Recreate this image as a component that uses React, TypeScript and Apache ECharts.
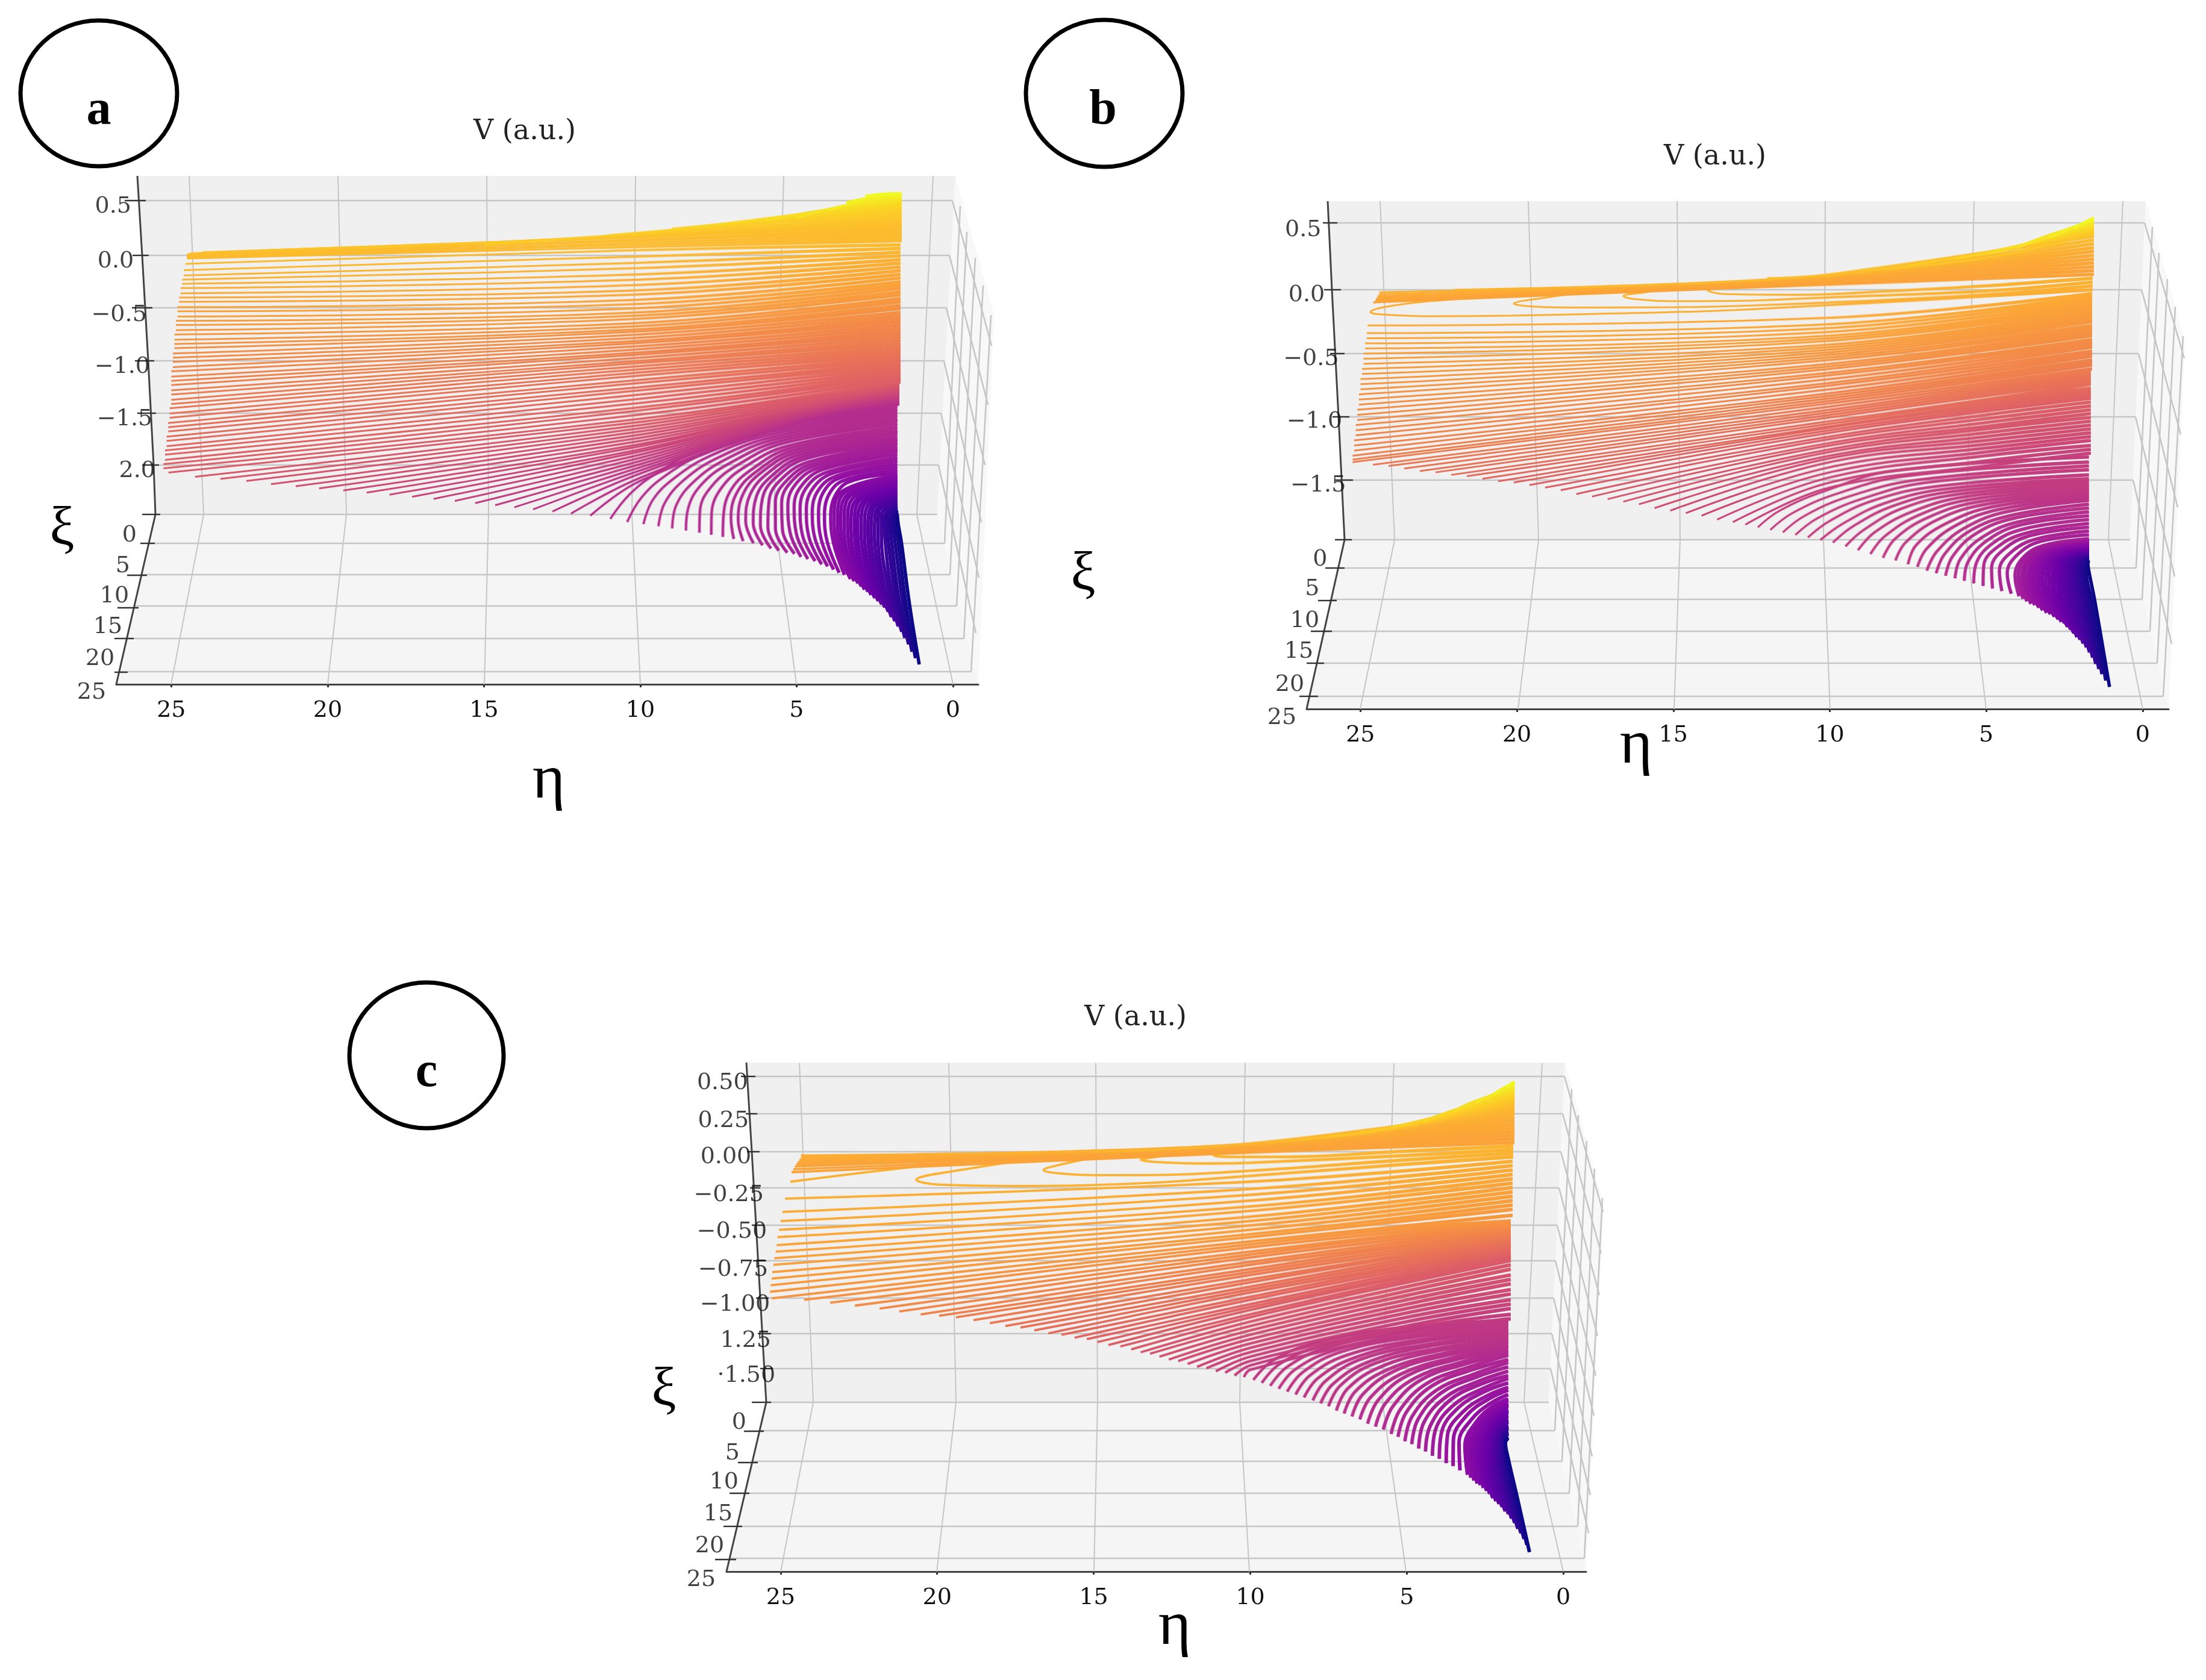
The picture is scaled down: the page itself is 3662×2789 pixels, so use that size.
import React, { useEffect, useRef } from "react";
import * as echarts from "echarts";

// ---------- values: eta on the front axis, V on the back wall ----------
const etaTicks = [0, 5, 10, 15, 20, 25];
const midEtasLeft = [10];
const midEtasBottom = [10, 5];

// rows: startEta, startV, midEta, midV, endV
const aBand = [
  [24.5,-.03,10,.08,.14],[24.5,-.02,10,.10,.17],[24.5,-.01,10,.12,.20],[24.5,0,10,.14,.23],[24.5,.01,10,.15,.26],[24.4,.02,10,.17,.29],
  [24,.03,10,.18,.32],[22,.05,10,.19,.35],[19,.07,10,.20,.38],[15,.10,10,.21,.41],[11,.19,7,.29,.44],[9,.25,5.5,.35,.47],
  [7.5,.29,4.5,.40,.49],[6,.33,3.8,.44,.51],[5,.36,3.2,.48,.53],[4,.43,2.8,.51,.55],[3.4,.50,2.5,.55,.57],[2.8,.56,2.2,.58,.585],
];
// rows: startEta, startV, V at eta 10, endV
const aLeft = [
  [24.55,-.08,.05,.10],[24.6,-.14,-.01,.065],[24.6,-.19,-.07,.03],[24.65,-.23,-.12,-.005],[24.65,-.27,-.18,-.04],[24.7,-.31,-.23,-.075],
  [24.7,-.36,-.28,-.11],[24.75,-.40,-.33,-.145],[24.75,-.44,-.37,-.18],[24.8,-.49,-.42,-.215],[24.8,-.53,-.46,-.25],[24.8,-.58,-.50,-.28],
  [24.85,-.62,-.54,-.31],[24.85,-.66,-.57,-.345],[24.85,-.71,-.60,-.375],[24.9,-.75,-.64,-.41],[24.9,-.80,-.67,-.44],[24.9,-.84,-.70,-.475],
  [24.9,-.88,-.72,-.505],[24.95,-.93,-.75,-.54],[24.95,-.97,-.78,-.57],[24.95,-1.01,-.81,-.60],[24.95,-1.06,-.83,-.63],[25,-1.10,-.86,-.66],
  [25,-1.15,-.89,-.69],[25,-1.19,-.92,-.72],[25,-1.23,-.94,-.75],[25,-1.28,-.97,-.78],[25,-1.32,-1.00,-.81],[25,-1.37,-1.02,-.84],
  [25,-1.41,-1.05,-.87],[25.05,-1.45,-1.08,-.895],[25.05,-1.50,-1.11,-.92],[25.05,-1.54,-1.14,-.945],[25.1,-1.59,-1.18,-.97],[25.1,-1.63,-1.21,-.995],
  [25.1,-1.67,-1.25,-1.02],[25.15,-1.72,-1.28,-1.04],[25.15,-1.76,-1.32,-1.065],[25.15,-1.81,-1.36,-1.09],[25.2,-1.85,-1.40,-1.11],[25.2,-1.89,-1.44,-1.13],
  [25.2,-1.94,-1.47,-1.15],[25.25,-1.98,-1.51,-1.175],[25.25,-2.02,-1.55,-1.20],
];
// rows: startEta, startV, V at eta 10, V at eta 5, endV
const aBottom = [
  [25.09,-2.06,-1.58,-1.36,-1.22],[24.24,-2.10,-1.61,-1.38,-1.23],[23.43,-2.12,-1.64,-1.40,-1.24],[22.60,-2.14,-1.67,-1.42,-1.25],
  [21.81,-2.17,-1.70,-1.43,-1.26],[21.02,-2.19,-1.73,-1.45,-1.27],[20.27,-2.21,-1.76,-1.46,-1.28],[19.50,-2.23,-1.79,-1.47,-1.29],
  [18.75,-2.25,-1.81,-1.48,-1.30],[18.02,-2.27,-1.84,-1.49,-1.31],[17.30,-2.29,-1.86,-1.50,-1.32],[16.61,-2.31,-1.89,-1.51,-1.33],
  [15.93,-2.33,-1.92,-1.52,-1.34],[15.28,-2.35,-1.95,-1.53,-1.35],[14.64,-2.37,-1.98,-1.54,-1.36],[14.03,-2.39,-2.01,-1.55,-1.37],
  [13.43,-2.41,-2.04,-1.56,-1.38],[12.81,-2.43,-2.07,-1.57,-1.39],[12.22,-2.45,-2.11,-1.58,-1.40],[11.60,-2.47,-2.14,-1.59,-1.41],
];
// rows: eta,V pairs, then endV
const aArcs = [
  [10.96,-2.50,10.35,-2.27,9.50,-2.07,8.20,-1.86,6.05,-1.66,-1.43],[10.42,-2.53,9.97,-2.30,9.20,-2.09,7.97,-1.88,5.94,-1.68,-1.46],
  [9.90,-2.55,9.60,-2.32,8.90,-2.11,7.75,-1.90,5.84,-1.70,-1.49],[9.42,-2.57,9.22,-2.35,8.60,-2.13,7.52,-1.92,5.73,-1.72,-1.52],
  [8.98,-2.59,8.85,-2.37,8.30,-2.15,7.30,-1.94,5.63,-1.74,-1.55],[8.54,-2.61,8.47,-2.40,8.00,-2.16,7.07,-1.96,5.52,-1.76,-1.57],
  [8.11,-2.63,8.09,-2.42,7.69,-2.18,6.84,-1.98,5.41,-1.78,-1.60],[7.73,-2.65,7.72,-2.45,7.39,-2.20,6.62,-2.00,5.31,-1.81,-1.63],
  [7.36,-2.67,7.34,-2.47,7.09,-2.22,6.39,-2.02,5.20,-1.83,-1.66],[7.01,-2.69,7.10,-2.49,6.89,-2.24,6.24,-2.04,5.10,-1.85,-1.68],
  [6.71,-2.71,6.87,-2.51,6.69,-2.25,6.09,-2.05,5.01,-1.87,-1.70],[6.38,-2.73,6.63,-2.52,6.49,-2.27,5.94,-2.07,4.91,-1.89,-1.73],
  [6.09,-2.75,6.39,-2.54,6.29,-2.29,5.79,-2.09,4.81,-1.91,-1.75],[5.82,-2.78,6.16,-2.56,6.09,-2.30,5.64,-2.10,4.72,-1.93,-1.77],
  [5.57,-2.80,5.92,-2.58,5.88,-2.32,5.48,-2.12,4.62,-1.96,-1.79],[5.30,-2.82,5.68,-2.59,5.68,-2.34,5.33,-2.14,4.52,-1.98,-1.82],
  [5.07,-2.83,5.45,-2.61,5.48,-2.35,5.18,-2.15,4.43,-2.00,-1.84],[4.86,-2.86,5.21,-2.63,5.28,-2.37,5.03,-2.17,4.33,-2.02,-1.86],
  [4.64,-2.88,5.01,-2.64,5.08,-2.38,4.83,-2.18,4.14,-2.03,-1.89],[4.41,-2.90,4.81,-2.66,4.89,-2.40,4.63,-2.18,3.96,-2.05,-1.92],
  [4.20,-2.93,4.61,-2.67,4.69,-2.41,4.43,-2.19,3.77,-2.06,-1.95],[4.01,-2.95,4.41,-2.69,4.50,-2.43,4.24,-2.20,3.59,-2.08,-1.98],
  [3.82,-2.98,4.21,-2.70,4.30,-2.44,4.04,-2.20,3.40,-2.09,-2.01],[3.64,-3.01,4.02,-2.72,4.11,-2.46,3.84,-2.21,3.22,-2.11,-2.04],
  [3.47,-3.03,3.82,-2.73,3.91,-2.47,3.64,-2.22,3.03,-2.12,-2.07],
  [3.28,-3.07,3.70,-2.76,3.80,-2.48,3.55,-2.24,-2.09],[3.16,-3.09,3.59,-2.78,3.69,-2.49,3.46,-2.25,-2.11],[3.04,-3.11,3.47,-2.81,3.59,-2.51,3.37,-2.27,-2.13],
  [2.93,-3.14,3.36,-2.84,3.48,-2.52,3.28,-2.28,-2.14],[2.83,-3.17,3.24,-2.86,3.37,-2.53,3.19,-2.30,-2.16],[2.72,-3.19,3.13,-2.89,3.26,-2.54,3.10,-2.32,-2.18],
  [2.62,-3.22,3.01,-2.92,3.15,-2.55,3.01,-2.33,-2.20],[2.50,-3.25,2.90,-2.95,3.05,-2.57,2.92,-2.35,-2.22],[2.39,-3.28,2.78,-2.97,2.94,-2.58,2.83,-2.36,-2.24],
  [2.28,-3.31,2.67,-3.00,2.83,-2.59,2.74,-2.38,-2.26],[2.18,-3.34,2.55,-3.03,2.72,-2.60,2.65,-2.40,-2.27],[2.07,-3.38,2.44,-3.05,2.62,-2.61,2.56,-2.41,-2.29],
  [1.97,-3.43,2.32,-3.08,2.51,-2.63,2.47,-2.43,-2.31],[1.86,-3.47,2.21,-3.11,2.40,-2.64,2.38,-2.44,-2.33],[1.75,-3.52,2.09,-3.13,2.29,-2.65,2.29,-2.46,-2.35],
  [1.64,-3.57,1.98,-3.16,2.18,-2.66,2.20,-2.48,-2.37],[1.54,-3.63,1.86,-3.19,2.08,-2.67,2.11,-2.49,-2.39],[1.42,-3.69,1.75,-3.22,1.97,-2.69,2.02,-2.51,-2.41],
  [1.31,-3.76,1.63,-3.24,1.86,-2.70,1.93,-2.52,-2.42],[1.20,-3.82,1.52,-3.27,1.75,-2.71,1.84,-2.54,-2.44],[1.08,-3.88,1.40,-3.29,1.65,-2.72,1.75,-2.55,-2.46],
];

const bBand = [
  [24.6,-.10,10,.04,.12],[24.55,-.09,10,.05,.15],[24.5,-.08,10,.06,.18],[24.5,-.07,10,.07,.21],[24.45,-.06,10,.08,.24],[24.45,-.05,10,.09,.27],
  [24.4,-.035,10,.10,.30],[24.4,-.02,10,.105,.33],[22,0,10,.11,.36],[18,.02,10,.115,.39],[12,.09,10,.12,.42],[9,.15,5,.25,.44],
  [7.5,.19,4.5,.31,.46],[6,.24,3.8,.35,.48],[5,.28,3.2,.39,.50],[4,.33,2.8,.44,.52],[3,.41,2.3,.48,.54],[2.2,.48,1.9,.52,.56],
];
const bLoops = [
  [18.5,-.014,20.2,-.047,22.8,-.09,24.25,-.137,24.68,-.175,24.5,-.19,22.8,-.208,20.2,-.203,17.6,-.19,13.6,-.165,10,-.12,5,-.05,0],
  [17.63,-.014,19.2,-.066,20.1,-.11,19.6,-.13,18.5,-.14,15,-.137,10,-.10,5,-.04,.03],
  [14.9,.02,15.9,-.02,16.6,-.05,16.2,-.075,15,-.09,12.5,-.085,10,-.06,5,-.01,.06],
  [12.5,.04,13.4,.015,13.9,-.005,13.3,-.035,11,-.04,8,-.01,5,.03,.09],
];
const bLeft = [
  [24.77,-.28,-.22,-.03],[24.8,-.34,-.27,-.05],[24.8,-.38,-.30,-.07],[24.85,-.42,-.33,-.09],[24.85,-.46,-.36,-.11],[24.9,-.50,-.38,-.13],
  [24.9,-.54,-.40,-.15],[24.9,-.58,-.43,-.17],[24.95,-.62,-.45,-.19],[24.95,-.66,-.47,-.21],[25,-.70,-.49,-.23],[25,-.74,-.51,-.25],
  [25,-.78,-.53,-.28],[25.05,-.82,-.55,-.30],[25.05,-.86,-.58,-.32],[25.05,-.90,-.60,-.34],[25.1,-.94,-.62,-.36],[25.1,-.98,-.65,-.39],
  [25.1,-1.02,-.67,-.41],[25.15,-1.06,-.70,-.43],[25.15,-1.10,-.73,-.45],[25.15,-1.14,-.75,-.48],[25.2,-1.18,-.78,-.50],[25.2,-1.22,-.81,-.52],
  [25.2,-1.26,-.83,-.55],[25.25,-1.30,-.85,-.57],[25.25,-1.33,-.87,-.59],[25.25,-1.35,-.89,-.62],
];
const bBottom = [
  [24.6,-1.37,-.915,-.75,-.64],[24.1,-1.38,-.94,-.77,-.66],[23.6,-1.40,-.96,-.79,-.68],[23.1,-1.42,-.98,-.81,-.70],[22.6,-1.43,-1.00,-.83,-.72],
  [22.1,-1.45,-1.03,-.86,-.74],[21.6,-1.46,-1.05,-.87,-.77],[21.1,-1.48,-1.07,-.89,-.79],[20.6,-1.50,-1.08,-.91,-.81],[20.1,-1.51,-1.10,-.93,-.83],
  [19.6,-1.53,-1.12,-.95,-.85],[19.1,-1.55,-1.15,-.98,-.88],[18.6,-1.57,-1.17,-1.01,-.91],[18.1,-1.60,-1.20,-1.04,-.94],[17.6,-1.62,-1.22,-1.07,-.97],
  [17.1,-1.64,-1.25,-1.09,-1.00],[16.6,-1.66,-1.27,-1.12,-1.03],[16.1,-1.68,-1.30,-1.15,-1.06],[15.6,-1.71,-1.32,-1.18,-1.09],[15.1,-1.73,-1.35,-1.21,-1.12],
  [14.6,-1.75,-1.39,-1.24,-1.15],[14.1,-1.77,-1.43,-1.27,-1.18],[13.6,-1.80,-1.47,-1.30,-1.22],[13.1,-1.82,-1.51,-1.34,-1.25],[12.7,-1.84,-1.55,-1.38,-1.28],
];
const bArcs = [
  [12.3,-1.86,11.6,-1.73,10.2,-1.58,8,-1.42,-1.31],[11.9,-1.88,11.2,-1.75,9.8,-1.60,7.6,-1.46,-1.35],[11.5,-1.90,10.8,-1.77,9.4,-1.62,7.2,-1.49,-1.38],
  [11.1,-1.92,10.4,-1.79,9.0,-1.64,6.9,-1.51,-1.41],[10.7,-1.94,10.0,-1.81,8.6,-1.65,6.6,-1.54,-1.45],[10.3,-1.96,9.57,-1.83,8.22,-1.67,6.29,-1.56,-1.48],
  [9.9,-1.98,9.24,-1.85,7.94,-1.69,6.08,-1.58,-1.50],[9.5,-2.01,8.91,-1.88,7.66,-1.71,5.86,-1.60,-1.52],[9.1,-2.04,8.57,-1.90,7.39,-1.74,5.65,-1.62,-1.54],
  [8.7,-2.07,8.24,-1.93,7.11,-1.76,5.44,-1.64,-1.56],[8.3,-2.10,7.91,-1.95,6.83,-1.78,5.22,-1.66,-1.58],[7.9,-2.12,7.58,-1.98,6.55,-1.80,5.01,-1.68,-1.59],
  [7.5,-2.15,7.24,-2.00,6.28,-1.83,4.80,-1.70,-1.61],[7.2,-2.17,6.91,-2.03,6.00,-1.85,4.58,-1.72,-1.63],[6.9,-2.20,6.58,-2.05,5.72,-1.87,4.37,-1.74,-1.65],
  [6.6,-2.22,6.33,-2.07,5.53,-1.89,4.25,-1.77,-1.68],[6.3,-2.24,6.08,-2.09,5.33,-1.91,4.12,-1.79,-1.71],[6.0,-2.26,5.83,-2.11,5.14,-1.94,4.00,-1.82,-1.74],
  [5.7,-2.28,5.58,-2.13,4.95,-1.96,3.87,-1.84,-1.77],[5.4,-2.30,5.33,-2.15,4.76,-1.98,3.75,-1.87,-1.80],[5.1,-2.32,5.08,-2.16,4.56,-2.00,3.62,-1.90,-1.83],
  [4.8,-2.34,4.83,-2.18,4.37,-2.02,3.50,-1.92,-1.86],[4.5,-2.36,4.58,-2.20,4.18,-2.05,3.37,-1.95,-1.89],[4.2,-2.38,4.33,-2.22,3.98,-2.07,3.25,-1.97,-1.92],
  [3.95,-2.40,4.08,-2.24,3.79,-2.09,3.12,-2.00,-1.95],
  [3.82,-2.42,3.98,-2.25,3.71,-2.09,3.07,-2.01,-1.96],[3.7,-2.44,3.88,-2.26,3.63,-2.10,3.01,-2.01,-1.96],[3.57,-2.46,3.79,-2.26,3.55,-2.10,2.96,-2.02,-1.97],
  [3.45,-2.47,3.69,-2.27,3.47,-2.11,2.91,-2.02,-1.98],[3.32,-2.49,3.59,-2.28,3.40,-2.11,2.85,-2.03,-1.98],[3.2,-2.51,3.49,-2.29,3.32,-2.11,2.80,-2.03,-1.99],
  [3.07,-2.53,3.39,-2.30,3.24,-2.12,2.75,-2.04,-2.00],[2.95,-2.54,3.30,-2.31,3.16,-2.12,2.70,-2.04,-2.00],[2.82,-2.56,3.20,-2.31,3.08,-2.12,2.64,-2.05,-2.01],
  [2.7,-2.58,3.10,-2.32,3.00,-2.13,2.59,-2.05,-2.02],[2.6,-2.60,3.00,-2.33,2.92,-2.13,2.54,-2.06,-2.02],[2.5,-2.61,2.90,-2.34,2.84,-2.14,2.48,-2.06,-2.03],
  [2.4,-2.64,2.81,-2.35,2.76,-2.14,2.43,-2.07,-2.03],[2.3,-2.66,2.71,-2.35,2.68,-2.14,2.38,-2.08,-2.04],[2.2,-2.69,2.61,-2.36,2.60,-2.15,2.32,-2.08,-2.05],
  [2.1,-2.72,2.51,-2.37,2.53,-2.15,2.27,-2.09,-2.05],[2.0,-2.74,2.41,-2.38,2.45,-2.15,2.22,-2.09,-2.06],[1.9,-2.77,2.32,-2.39,2.37,-2.16,2.17,-2.10,-2.07],
  [1.8,-2.80,2.22,-2.40,2.29,-2.16,2.11,-2.10,-2.07],[1.7,-2.84,2.12,-2.40,2.21,-2.17,2.06,-2.11,-2.08],[1.6,-2.88,2.02,-2.41,2.13,-2.17,2.01,-2.11,-2.09],
  [1.5,-2.93,1.92,-2.42,2.05,-2.17,1.95,-2.12,-2.09],[1.4,-2.97,1.83,-2.43,1.97,-2.18,1.90,-2.12,-2.10],[1.3,-3.01,1.73,-2.44,1.89,-2.18,1.85,-2.13,-2.11],
  [1.18,-3.06,1.63,-2.44,1.81,-2.19,1.80,-2.13,-2.11],[1.06,-3.11,1.52,-2.45,1.73,-2.19,1.75,-2.14,-2.12],
];

const cBand = [
  [24.65,-.145,10,-.01,.06],[24.6,-.125,10,0,.085],[24.55,-.105,10,.01,.11],[24.5,-.09,10,.02,.135],[24.45,-.075,10,.03,.16],[24.4,-.06,10,.035,.185],
  [24.35,-.045,10,.04,.21],[24.35,-.03,10,.045,.235],[20,-.02,10,.05,.26],[15,-.005,10,.05,.28],[9.5,.06,6,.13,.30],[8.5,.08,5.5,.15,.32],
  [7.5,.10,5,.175,.34],[6.5,.13,4.5,.20,.36],[5.5,.16,4,.235,.38],[4.5,.20,3.3,.29,.40],[3.5,.27,2.8,.34,.42],[2.8,.33,2.3,.38,.44],[2.2,.39,1.9,.43,.46],[1.8,.44,1.65,.46,.475],
];
const cLoops = [
  [17,-.045,19.94,-.09,24.69,-.21],
  [16.6,-.045,18.96,-.12,20.67,-.198,19.94,-.23,17,-.24,13.4,-.22,10,-.17,5,-.09,-.04],
  [15,-.045,16,-.09,16.6,-.13,16,-.155,15,-.165,13.4,-.165,10,-.135,5,-.06,-.015],
  [12.2,-.01,13,-.04,13.5,-.06,13,-.075,11.5,-.085,10,-.08,5,-.03,.01],
  [10.2,0,10.8,-.015,11.16,-.03,10.6,-.04,9,-.04,5,0,.035],
];
const cLeft = [
  [24.86,-.326,-.21,-.07],[24.94,-.417,-.26,-.10],[25,-.48,-.30,-.13],[25.05,-.54,-.34,-.16],[25.1,-.59,-.38,-.19],[25.13,-.645,-.41,-.22],
  [25.16,-.69,-.45,-.25],[25.2,-.735,-.48,-.28],[25.23,-.78,-.51,-.31],[25.27,-.83,-.54,-.34],[25.29,-.875,-.57,-.37],[25.32,-.92,-.59,-.40],[25.34,-.965,-.62,-.44],
];
const cBottom = [
  [25.29,-1.01,-.64,-.53,-.48],[24.25,-1.02,-.66,-.55,-.49],[23.42,-1.04,-.69,-.57,-.50],[22.63,-1.06,-.71,-.58,-.52],[21.84,-1.08,-.73,-.60,-.53],
  [21.21,-1.10,-.76,-.62,-.54],[20.53,-1.12,-.78,-.64,-.55],[19.94,-1.13,-.81,-.65,-.57],[19.40,-1.14,-.83,-.67,-.58],[18.84,-1.16,-.85,-.69,-.59],
  [18.32,-1.18,-.88,-.71,-.60],[17.82,-1.20,-.90,-.72,-.62],[17.34,-1.21,-.93,-.74,-.63],[16.90,-1.23,-.95,-.76,-.64],[16.45,-1.25,-.97,-.78,-.65],
  [16.03,-1.26,-1.00,-.79,-.67],[15.61,-1.28,-1.02,-.81,-.68],[15.22,-1.29,-1.05,-.83,-.69],[14.88,-1.31,-1.07,-.85,-.71],[14.53,-1.33,-1.09,-.86,-.72],
  [14.15,-1.34,-1.12,-.88,-.73],[13.8,-1.36,-1.14,-.90,-.75],[13.5,-1.38,-1.17,-.93,-.78],[13.2,-1.39,-1.20,-.96,-.81],[12.9,-1.41,-1.23,-.99,-.85],
  [12.6,-1.43,-1.26,-1.02,-.88],[12.3,-1.44,-1.29,-1.05,-.91],[12,-1.46,-1.32,-1.08,-.95],[11.7,-1.48,-1.35,-1.11,-.98],[11.4,-1.49,-1.38,-1.14,-1.02],
  [11.1,-1.51,-1.41,-1.17,-1.05],[10.8,-1.52,-1.44,-1.20,-1.08],[10.5,-1.54,-1.47,-1.22,-1.12],[10.2,-1.55,-1.50,-1.25,-1.15],
];
const cArcs = [
  [9.9,-1.57,9.30,-1.44,8.00,-1.32,5.50,-1.22,-1.16],[9.63,-1.59,9.06,-1.46,7.78,-1.34,5.35,-1.24,-1.17],[9.36,-1.61,8.82,-1.48,7.57,-1.35,5.20,-1.25,-1.19],
  [9.09,-1.63,8.58,-1.50,7.35,-1.37,5.06,-1.27,-1.20],[8.82,-1.65,8.34,-1.52,7.14,-1.38,4.91,-1.28,-1.22],[8.55,-1.67,8.10,-1.54,6.92,-1.40,4.76,-1.30,-1.23],
  [8.28,-1.69,7.85,-1.56,6.70,-1.42,4.61,-1.31,-1.24],[8.0,-1.71,7.61,-1.58,6.49,-1.43,4.46,-1.33,-1.26],[7.75,-1.73,7.37,-1.60,6.27,-1.45,4.32,-1.34,-1.27],
  [7.5,-1.75,7.13,-1.61,6.06,-1.46,4.17,-1.36,-1.29],[7.25,-1.78,6.89,-1.63,5.84,-1.48,4.02,-1.37,-1.30],[7.0,-1.80,6.65,-1.65,5.62,-1.50,3.87,-1.39,-1.31],
  [6.75,-1.82,6.41,-1.67,5.41,-1.51,3.72,-1.40,-1.33],[6.5,-1.84,6.16,-1.69,5.19,-1.53,3.58,-1.42,-1.34],[6.25,-1.87,5.92,-1.71,4.98,-1.54,3.43,-1.43,-1.36],
  [6.0,-1.89,5.68,-1.73,4.76,-1.56,3.28,-1.45,-1.37],[5.75,-1.91,5.44,-1.75,4.55,-1.57,3.13,-1.46,-1.39],[5.5,-1.94,5.20,-1.77,4.33,-1.59,2.98,-1.48,-1.40],
  [5.28,-1.96,5.01,-1.79,4.19,-1.61,2.91,-1.50,-1.43],[5.06,-1.99,4.83,-1.82,4.05,-1.64,2.85,-1.53,-1.45],[4.84,-2.01,4.64,-1.84,3.91,-1.66,2.78,-1.55,-1.48],
  [4.62,-2.04,4.45,-1.86,3.77,-1.69,2.72,-1.58,-1.51],[4.4,-2.06,4.26,-1.89,3.63,-1.71,2.65,-1.60,-1.54],[4.18,-2.09,4.08,-1.91,3.49,-1.74,2.58,-1.63,-1.56],
  [3.96,-2.11,3.89,-1.93,3.35,-1.76,2.52,-1.65,-1.59],[3.74,-2.14,3.70,-1.95,3.21,-1.79,2.45,-1.68,-1.62],[3.52,-2.16,3.51,-1.98,3.07,-1.81,2.38,-1.70,-1.64],
  [3.3,-2.19,3.33,-2.00,2.93,-1.84,2.32,-1.73,-1.67],[3.06,-2.22,3.14,-2.02,2.79,-1.86,2.25,-1.75,-1.70],
  [2.95,-2.24,3.06,-2.04,2.74,-1.87,2.23,-1.76,-1.71],[2.85,-2.26,2.98,-2.05,2.69,-1.88,2.21,-1.78,-1.73],[2.75,-2.28,2.89,-2.07,2.64,-1.90,2.19,-1.79,-1.74],
  [2.65,-2.29,2.81,-2.09,2.59,-1.91,2.17,-1.80,-1.75],[2.55,-2.31,2.73,-2.10,2.53,-1.92,2.15,-1.81,-1.77],[2.45,-2.33,2.65,-2.12,2.48,-1.93,2.13,-1.83,-1.78],
  [2.35,-2.35,2.57,-2.14,2.43,-1.94,2.11,-1.84,-1.79],[2.25,-2.38,2.48,-2.15,2.38,-1.96,2.09,-1.85,-1.81],[2.15,-2.40,2.40,-2.17,2.33,-1.97,2.07,-1.86,-1.82],
  [2.05,-2.42,2.32,-2.19,2.28,-1.98,2.05,-1.88,-1.84],[1.95,-2.44,2.24,-2.20,2.23,-1.99,2.03,-1.89,-1.85],[1.85,-2.47,2.16,-2.22,2.18,-2.00,2.01,-1.90,-1.86],
  [1.75,-2.49,2.07,-2.23,2.13,-2.02,1.99,-1.91,-1.88],[1.65,-2.52,1.99,-2.25,2.08,-2.03,1.97,-1.93,-1.89],[1.55,-2.55,1.91,-2.27,2.03,-2.04,1.95,-1.94,-1.90],
  [1.45,-2.59,1.83,-2.28,1.97,-2.05,1.93,-1.95,-1.92],[1.35,-2.62,1.75,-2.30,1.92,-2.06,1.91,-1.96,-1.93],[1.25,-2.66,1.66,-2.32,1.87,-2.08,1.89,-1.98,-1.94],
  [1.16,-2.70,1.58,-2.33,1.82,-2.09,1.87,-1.99,-1.96],[1.08,-2.75,1.50,-2.35,1.77,-2.10,1.85,-2.00,-1.97],
];

// tick labels: label position read as [eta, V, text]
const aTickLabels = [[26.86,.48,"0.5"],[26.78,-.04,"0.0"],[26.67,-.55,"−0.5"],[26.57,-1.04,"−1.0"],[26.49,-1.54,"−1.5"],[26.09,-2.03,"2.0"],
  [26.34,-2.64,"0"],[26.55,-2.93,"5"],[26.82,-3.22,"10"],[27.03,-3.51,"15"],[27.28,-3.81,"20"],[27.55,-4.13,"25"]];
const bTickLabels = [[26.83,.48,"0.5"],[26.72,-.03,"0.0"],[26.58,-.53,"−0.5"],[26.47,-1.02,"−1.0"],[26.35,-1.52,"−1.5"],
  [26.29,-2.10,"0"],[26.54,-2.33,"5"],[26.78,-2.58,"10"],[26.97,-2.82,"15"],[27.26,-3.08,"20"],[27.51,-3.34,"25"]];
const cTickLabels = [[26.86,.48,"0.50"],[26.83,.22,"0.25"],[26.75,-.03,"0.00"],[26.66,-.29,"−0.25"],[26.56,-.54,"−0.50"],[26.52,-.80,"−0.75"],[26.46,-1.04,"−1.00"],[26.12,-1.29,"1.25"],[26.1,-1.53,"·1.50"],
  [26.33,-1.85,"0"],[26.54,-2.06,"5"],[26.81,-2.26,"10"],[27.0,-2.48,"15"],[27.27,-2.70,"20"],[27.54,-2.93,"25"]];

// ---------- styling and layout ----------
const plasma = ["#0d0887","#41049d","#6a00a8","#8f0da4","#b12a90","#cc4778","#e16462","#f1844b","#fca636","#fcce25","#f0f921"];
const hex = (h: string) => [1, 3, 5].map((i) => parseInt(h.slice(i, i + 2), 16));
const rgbAt = (t: number) => {
  const p = Math.max(0, Math.min(1, t)) * (plasma.length - 1);
  const i = Math.min(plasma.length - 2, Math.floor(p));
  const f = p - i, a = hex(plasma[i]), b = hex(plasma[i + 1]);
  return a.map((v, k) => Math.round(v + (b[k] - v) * f)).join(",");
};
const flat = (row: number[], endEta: number) => {
  const pts: number[][] = [];
  for (let i = 0; i + 2 < row.length; i += 2) pts.push([row[i], row[i + 1]]);
  if (row.length % 2) pts.push([endEta, row[row.length - 1]]);
  else pts.push([row[row.length - 2], row[row.length - 1]]);
  return pts;
};
const mids = (row: number[], etas: number[], endEta: number) => [
  [row[0], row[1]],
  ...etas.map((e, i) => [e, row[2 + i]]),
  [endEta, row[row.length - 1]],
];

type Fam = { lines: number[][][]; t0: number; t1: number; gamma: number };
const fams = (list: [number[][], "flat" | number[], number, number, number, number?][]): Fam[] =>
  list.map(([rows, kind, endEta, t0, t1, gamma]) => ({
    lines: rows.map((r) => (kind === "flat" ? flat(r, endEta) : mids(r, kind as number[], endEta))),
    t0, t1, gamma: gamma ?? 1,
  }));

const panels = [
  {
    grid: { left: 193, top: 292, width: 1431, height: 844 }, x: [-0.81, 26.76], y: [-4.069, 0.754], margin: 22, width: 3, halo: 5.6,
    families: fams([
      [aArcs, "flat", 1.78, 0.41, 0, 2],
      [aBottom, midEtasBottom, 1.72, 0.57, 0.42],
      [aLeft, midEtasLeft, 1.68, 0.85, 0.58],
      [aBand, "flat", 1.64, 0.85, 1, 2],
    ]),
    labels: aTickLabels,
    wall: [[228,292],[1586,292],[1556,854],[258,854]], floor: [[258,854],[1556,854],[1624,1136],[193,1136]], side: [[1586,292],[1650,523],[1624,1136],[1556,854]],
    grids: [[231,333,1581,333],[236,424,1576,424],[241,511,1571,511],[246,599,1567,599],[250,686,1562,686],[255,772,1558,772],[258,854,1556,854],
      [247,902,1568,902],[235,954,1577,954],[223,1006,1588,1006],[211,1060,1600,1060],[198,1115,1612,1115],
      [1594,342,1568,902],[1605,385,1577,954],[1619,428,1588,1006],[1632,474,1600,1060],[1645,523,1612,1115],
      [1581,333,1646,574],[1576,424,1640,672],[1571,511,1635,772],[1567,599,1629,867],[1562,686,1625,959],[1558,772,1620,1051]],
    verticals: [[[314,292],[338,854],[284,1136]],[[561,292],[575,854],[544,1136]],[[808,292],[811,854],[804,1136]],[[1055,292],[1049,854],[1063,1136]],[[1301,292],[1285,854],[1322,1136]],[[1549,292],[1522,854],[1582,1136]]],
    axis: [[228,292],[236,424],[246,599],[255,772],[258,854],[193,1136]],
    ticks: [[207,333,242,333],[220,424,247,424],[219,511,253,511],[224,599,256,599],[228,686,259,686],[236,772,264,772],[236,854,266,854],[233,902,257,902],[211,955,244,955],[195,1009,230,1009],[190,1060,222,1060],[190,1116,212,1116]],
    circle: [164, 155, 130, 121], letter: ["a", 164, 178], title: [871, 215], etaPos: [911, 1288], xiPos: [103, 873],
  },
  {
    grid: { left: 2169, top: 334, width: 1431, height: 843 }, x: [-0.83, 26.72], y: [-3.283, 0.693], margin: 22, width: 3, halo: 5.6,
    families: fams([
      [bArcs, "flat", 1.72, 0.47, 0, 2],
      [bBottom, midEtasBottom, 1.66, 0.67, 0.48],
      [bLeft, midEtasLeft, 1.62, 0.81, 0.68],
      [bLoops, "flat", 1.6, 0.82, 0.83],
      [bBand, "flat", 1.56, 0.79, 1, 2],
    ]),
    labels: bTickLabels,
    wall: [[2204,334],[3562,334],[3536,896],[2232,896]], floor: [[2232,896],[3536,896],[3600,1177],[2169,1177]], side: [[3562,334],[3627,567],[3600,1177],[3536,896]],
    grids: [[2206,370,3560,370],[2211,481,3555,481],[2217,587,3550,587],[2222,692,3545,692],[2227,797,3541,797],[2232,896,3536,896],
      [2221,943,3546,943],[2210,995,3556,995],[2198,1048,3569,1048],[2186,1101,3581,1101],[2174,1156,3591,1156],
      [3573,377,3546,943],[3584,420,3556,995],[3598,463,3569,1048],[3611,509,3581,1101],[3624,558,3591,1156],
      [3560,370,3626,595],[3555,481,3620,721],[3550,587,3615,842],[3545,692,3610,957],[3541,797,3605,1069]],
    verticals: [[[2291,334],[2315,896],[2258,1177]],[[2537,334],[2554,896],[2520,1177]],[[2784,334],[2789,896],[2779,1177]],[[3030,334],[3027,896],[3038,1177]],[[3277,334],[3264,896],[3297,1177]],[[3524,334],[3500,896],[3557,1177]]],
    axis: [[2204,334],[2211,481],[2222,692],[2232,896],[2169,1177]],
    ticks: [[2196,370,2220,370],[2198,481,2226,481],[2208,587,2232,587],[2212,692,2240,692],[2216,797,2246,797],[2216,896,2244,896],[2200,943,2232,943],[2188,997,2219,997],[2176,1048,2211,1048],[2169,1101,2198,1101],[2157,1156,2188,1156]],
    circle: [1833, 155, 130, 122], letter: ["b", 1831, 177], title: [2847, 257], etaPos: [2716, 1230], xiPos: [1798, 948],
  },
  {
    grid: { left: 1206, top: 1764, width: 1427, height: 845 }, x: [-0.73, 26.73], y: [-2.884, 0.607], margin: 22, width: 3.8, halo: 6,
    families: fams([
      [cArcs, "flat", 1.76, 0.45, 0, 2],
      [cBottom, midEtasBottom, 1.68, 0.75, 0.46],
      [cLeft, midEtasLeft, 1.62, 0.82, 0.76],
      [cLoops, "flat", 1.6, 0.825, 0.835],
      [cBand, "flat", 1.56, 0.79, 1, 2],
    ]),
    labels: cTickLabels,
    wall: [[1239,1764],[2598,1764],[2571,2328],[1272,2328]], floor: [[1272,2328],[2571,2328],[2633,2609],[1206,2609]], side: [[2598,1764],[2662,2000],[2633,2609],[2571,2328]],
    grids: [[1240,1787,2597,1787],[1244,1849,2594,1849],[1248,1912,2591,1912],[1251,1972,2588,1972],[1255,2034,2585,2034],[1258,2093,2582,2093],[1262,2155,2579,2155],[1265,2214,2576,2214],[1269,2272,2574,2272],[1272,2328,2571,2328],
      [1261,2375,2581,2375],[1249,2426,2593,2426],[1237,2479,2605,2479],[1224,2534,2619,2534],[1212,2587,2630,2587],
      [2609,1808,2581,2375],[2620,1851,2593,2426],[2634,1894,2605,2479],[2647,1940,2619,2534],[2660,1989,2630,2587],
      [2597,1787,2661,2012],[2594,1849,2658,2081],[2591,1912,2655,2150],[2588,1972,2652,2218],[2585,2034,2649,2284],[2582,2093,2646,2350],[2579,2155,2643,2418],[2576,2214,2640,2482],[2574,2272,2637,2545]],
    verticals: [[[1327,1765],[1350,2328],[1296,2609]],[[1575,1765],[1587,2328],[1555,2609]],[[1819,1765],[1822,2328],[1816,2609]],[[2067,1765],[2058,2328],[2074,2609]],[[2314,1765],[2295,2328],[2334,2609]],[[2560,1765],[2530,2328],[2595,2609]]],
    axis: [[1239,1764],[1248,1912],[1262,2155],[1272,2328],[1206,2609]],
    ticks: [[1230,1787,1254,1787],[1238,1849,1257,1849],[1240,1912,1261,1912],[1245,1972,1262,1972],[1248,2034,1268,2034],[1250,2093,1272,2093],[1255,2155,1276,2155],[1258,2214,1280,2214],[1262,2272,1283,2272],[1248,2328,1280,2328],[1235,2376,1268,2376],[1225,2428,1258,2428],[1211,2479,1244,2479],[1201,2534,1232,2534],[1187,2589,1222,2589]],
    circle: [708, 1752, 128, 121], letter: ["c", 708, 1775], title: [1885, 1686], etaPos: [1950, 2693], xiPos: [1102, 2302],
  },
];

const SERIF = "'DejaVu Serif', serif";
const GLYPH = "'Liberation Serif', serif";

function buildOption() {
  const grid: any[] = [], xAxis: any[] = [], yAxis: any[] = [], series: any[] = [], elements: any[] = [];
  panels.forEach((p, idx) => {
    const pxOf = (eta: number) => p.grid.left + ((p.x[1] - eta) / (p.x[1] - p.x[0])) * p.grid.width;
    grid.push({ ...p.grid, containLabel: false, show: false });
    xAxis.push({
      type: "value", gridIndex: idx, inverse: true, min: p.x[0], max: p.x[1], splitLine: { show: false },
      axisLine: { show: true, onZero: false, lineStyle: { color: "#444", width: 3 } },
      axisTick: { show: true, customValues: etaTicks, length: 5, lineStyle: { color: "#333", width: 3 } },
      axisLabel: { show: true, customValues: etaTicks, margin: p.margin, fontFamily: SERIF, fontSize: 38, color: "#111", formatter: (v: number) => String(v) },
    });
    yAxis.push({ type: "value", gridIndex: idx, min: p.y[0], max: p.y[1], show: false });

    p.families.forEach((fam) => {
      fam.lines.forEach((pts, i) => {
        const n = fam.lines.length;
        const f = n > 1 ? i / (n - 1) : 0;
        const rgb = rgbAt(fam.t0 + (fam.t1 - fam.t0) * Math.pow(f, fam.gamma));
        const common = { type: "line", xAxisIndex: idx, yAxisIndex: idx, data: pts, smooth: 0.4, showSymbol: false, symbol: "none", silent: true, clip: false };
        // the contours crowd together towards the right edge: the same line is thickened there
        series.push({
          ...common, z: 2.5,
          lineStyle: {
            width: p.halo, cap: "butt",
            color: new echarts.graphic.LinearGradient(pxOf(13), 0, pxOf(3.5), 0, [
              { offset: 0, color: `rgba(${rgb},0)` }, { offset: 1, color: `rgba(${rgb},1)` },
            ], true),
          },
        });
        series.push({ ...common, z: 3, lineStyle: { color: `rgb(${rgb})`, width: p.width, cap: "butt" } });
      });
    });
    series.push({
      type: "scatter", xAxisIndex: idx, yAxisIndex: idx, data: p.labels, symbolSize: 1, clip: false, silent: true, itemStyle: { color: "transparent" }, z: 5,
      label: { show: true, position: "inside", formatter: (d: any) => d.data[2], fontFamily: SERIF, fontSize: 38, color: "#111" },
    });

    const poly = (pts: number[][], fill: string) => elements.push({ type: "polygon", silent: true, z: 0, shape: { points: pts }, style: { fill } });
    poly(p.wall, "#f0f0f0"); poly(p.floor, "#f5f5f5"); poly(p.side, "#f8f8f8");
    p.grids.forEach(([x1, y1, x2, y2]) => elements.push({ type: "line", silent: true, z: 1, shape: { x1, y1, x2, y2 }, style: { stroke: "#c6c6c6", lineWidth: 2.6 } }));
    p.verticals.forEach((pts) => elements.push({ type: "polyline", silent: true, z: 1, shape: { points: pts }, style: { stroke: "#c6c6c6", lineWidth: 2, fill: "none" } }));
    elements.push({ type: "polyline", silent: true, z: 1, shape: { points: p.axis }, style: { stroke: "#444", lineWidth: 3, fill: "none" } });
    p.ticks.forEach(([x1, y1, x2, y2]) => elements.push({ type: "line", silent: true, z: 1, shape: { x1, y1, x2, y2 }, style: { stroke: "#333", lineWidth: 2.4 } }));

    const [cx, cy, rx, ry] = p.circle;
    elements.push({ type: "ellipse", silent: true, z: 6, shape: { cx, cy, rx, ry }, style: { fill: "none", stroke: "#000", lineWidth: 7 } });
    const txt = (text: string, x: number, y: number, font: string, color = "#000") =>
      elements.push({ type: "text", silent: true, z: 6, x, y, style: { text, font, fill: color, align: "center", verticalAlign: "middle" } });
    txt(p.letter[0] as string, p.letter[1] as number, p.letter[2] as number, `bold 82px ${GLYPH}`);
    txt("V (a.u.)", p.title[0], p.title[1], `46px ${SERIF}`, "#222");
    txt("η", p.etaPos[0], p.etaPos[1], `104px ${GLYPH}`);
    txt("ξ", p.xiPos[0], p.xiPos[1], `92px ${GLYPH}`);
  });
  return { animation: false, backgroundColor: "#fff", grid, xAxis, yAxis, series, graphic: { elements } };
}

export default function App() {
  const ref = useRef<HTMLDivElement>(null);
  useEffect(() => {
    const chart = echarts.init(ref.current!, null, { renderer: "svg" });
    chart.setOption(buildOption() as any);
    return () => chart.dispose();
  }, []);
  return <div ref={ref} style={{ position: "absolute", left: 0, top: 0, width: 3662, height: 2789, filter: "blur(0.7px)" }} />;
}
